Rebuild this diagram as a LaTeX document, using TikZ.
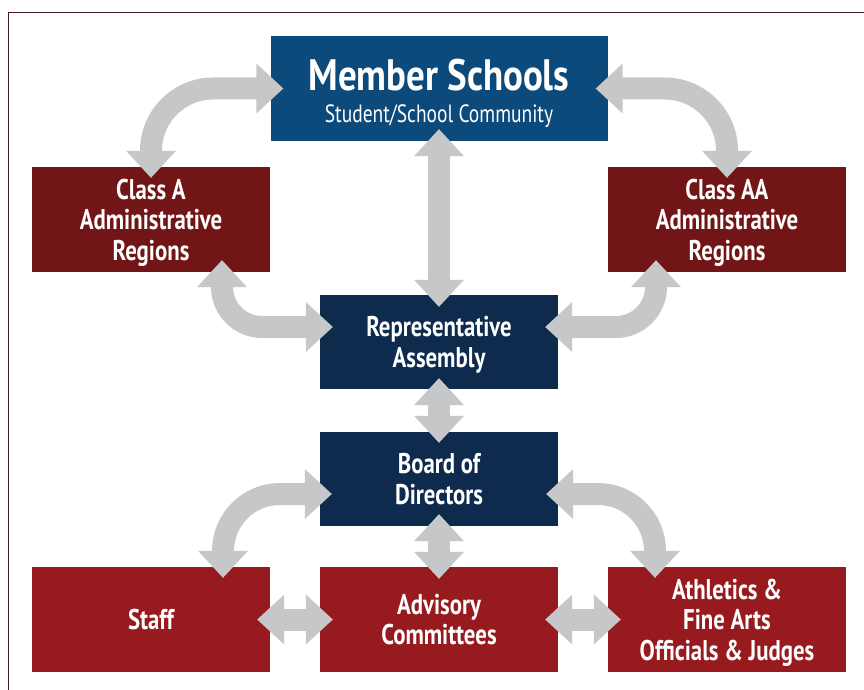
\documentclass[tikz,border=0pt]{standalone}
\usepackage{fontspec}
\setmainfont{PT Sans}[FakeStretch=0.80]
\newfontfamily\titlefont{PT Sans}[FakeStretch=0.84]
\newfontfamily\subfont{PT Sans}[FakeStretch=0.78]
\usetikzlibrary{calc}
\definecolor{msblue}{HTML}{0B4A7B}
\definecolor{navy}{HTML}{0E2B4D}
\definecolor{darkred}{HTML}{721516}
\definecolor{brightred}{HTML}{971A1F}
\definecolor{arrowgray}{HTML}{C6C7C9}
\definecolor{framecol}{HTML}{4B1A1C}
\newcommand{\arrhead}[2]{\fill[arrowgray] (#1) -- ($(#2)!25pt!90:(#1)$) -- ($(#2)!25pt!-90:(#1)$) -- cycle;}
\begin{document}
\begin{tikzpicture}[x=1pt,y=-1pt,
  box/.style={rectangle, inner sep=0pt, text=white, align=center, text depth=0pt,
    minimum width=238pt, font=\fontsize{28.5}{30.5}\selectfont\bfseries},
  tall/.style={minimum height=105pt},
  short/.style={minimum height=94pt},
  shaft/.style={draw=arrowgray, line width=22pt, line cap=butt}]
\useasboundingbox (0,0) rectangle (864,690);
\fill[white] (0,0) rectangle (864,690);
\draw[framecol, line width=1.5pt] (8.5,690) -- (8.5,12.5) -- (864,12.5);

% boxes
\node[box, fill=msblue, minimum width=337pt, tall] (ms) at (439,88.5) {};
\node[anchor=base, text=white, inner sep=0pt, font=\titlefont\fontsize{44}{44}\selectfont\bfseries] (mst) at ($(ms.center)+(0,2.5)$) {Member Schools};
\node[anchor=base, text=white, inner sep=0pt, font=\subfont\fontsize{25}{25}\selectfont] (mss) at ($(ms.center)+(0,33.5)$) {Student/School Community};

\node[box, fill=darkred, tall] (ca) at (151,219.5) {Class A\\Administrative\\Regions};
\node[box, fill=darkred, tall] (caa) at (727,219.5) {Class AA\\Administrative\\Regions};
\node[box, fill=navy, short] (ra) at (439,342) {Representative\\Assembly};
\node[box, fill=navy, short] (bd) at (439,479) {Board of\\Directors};
\node[box, fill=brightred, tall] (st) at (151,619.5) {Staff};
\node[box, fill=brightred, tall] (ac) at (439,619.5) {Advisory\\Committees};
\node[box, fill=brightred, tall] (afa) at (727,619.5) {Athletics \&\\Fine Arts\\Officials \& Judges};

% arrow 1: ms <-> ca
\coordinate (t1a) at ($(ms.west)+(13,0)$);
\coordinate (b1a) at ($(t1a)+(-27,0)$);
\coordinate (t1b) at ($(ca.north)+(0,11)$);
\coordinate (b1b) at ($(t1b)+(0,-27)$);
\coordinate (c1) at (b1b |- b1a);
\draw[shaft] ($(b1b)+(0,2)$) -- ($(c1)+(0,62)$) .. controls ($(c1)+(0,28)$) and ($(c1)+(28,0)$) .. ($(c1)+(62,0)$) -- ($(b1a)+(2,0)$);
\arrhead{t1a}{b1a}
\arrhead{t1b}{b1b}

% arrow 2: ms <-> caa
\coordinate (t2a) at ($(ms.east)+(-12,0)$);
\coordinate (b2a) at ($(t2a)+(27,0)$);
\coordinate (t2b) at ($(caa.north)+(0,11)$);
\coordinate (b2b) at ($(t2b)+(0,-27)$);
\coordinate (c2) at (b2b |- b2a);
\draw[shaft] ($(b2b)+(0,2)$) -- ($(c2)+(0,62)$) .. controls ($(c2)+(0,28)$) and ($(c2)+(-28,0)$) .. ($(c2)+(-62,0)$) -- ($(b2a)+(-2,0)$);
\arrhead{t2a}{b2a}
\arrhead{t2b}{b2b}

% arrow 3: ms <-> ra
\coordinate (t3a) at ($(ms.south)+(0,-12)$);
\coordinate (b3a) at ($(t3a)+(0,27)$);
\coordinate (t3b) at ($(ra.north)+(0,12)$);
\coordinate (b3b) at ($(t3b)+(0,-27)$);
\draw[shaft] ($(b3a)+(0,-2)$) -- ($(b3b)+(0,2)$);
\arrhead{t3a}{b3a}
\arrhead{t3b}{b3b}

% arrow 4: ca <-> ra
\coordinate (t4a) at ($(ca.south)+(71,-12)$);
\coordinate (b4a) at ($(t4a)+(0,27)$);
\coordinate (t4b) at ($(ra.west)+(13,-15)$);
\coordinate (b4b) at ($(t4b)+(-27,0)$);
\coordinate (c4) at (b4a |- b4b);
\draw[shaft] ($(b4a)+(0,-2)$) -- ($(c4)+(0,-40)$) .. controls ($(c4)+(0,-18)$) and ($(c4)+(18,0)$) .. ($(c4)+(40,0)$) -- ($(b4b)+(2,0)$);
\arrhead{t4a}{b4a}
\arrhead{t4b}{b4b}

% arrow 5: caa <-> ra
\coordinate (t5a) at ($(caa.south)+(-71,-12)$);
\coordinate (b5a) at ($(t5a)+(0,27)$);
\coordinate (t5b) at ($(ra.east)+(-13,-15)$);
\coordinate (b5b) at ($(t5b)+(27,0)$);
\coordinate (c5) at (b5a |- b5b);
\draw[shaft] ($(b5a)+(0,-2)$) -- ($(c5)+(0,-40)$) .. controls ($(c5)+(0,-18)$) and ($(c5)+(-18,0)$) .. ($(c5)+(-40,0)$) -- ($(b5b)+(-2,0)$);
\arrhead{t5a}{b5a}
\arrhead{t5b}{b5b}

% arrow 6: ra <-> bd
\coordinate (t6a) at ($(ra.south)+(0,-11)$);
\coordinate (b6a) at ($(t6a)+(0,27)$);
\coordinate (t6b) at ($(bd.north)+(0,11)$);
\coordinate (b6b) at ($(t6b)+(0,-27)$);
\draw[shaft] ($(b6a)+(0,-2)$) -- ($(b6b)+(0,2)$);
\arrhead{t6a}{b6a}
\arrhead{t6b}{b6b}

% arrow 7: bd <-> ac
\coordinate (t7a) at ($(bd.south)+(0,-12)$);
\coordinate (b7a) at ($(t7a)+(0,27)$);
\coordinate (t7b) at ($(ac.north)+(0,12)$);
\coordinate (b7b) at ($(t7b)+(0,-27)$);
\draw[shaft] ($(b7a)+(0,-2)$) -- ($(b7b)+(0,2)$);
\arrhead{t7a}{b7a}
\arrhead{t7b}{b7b}

% arrow 8: bd <-> st
\coordinate (t8a) at ($(bd.west)+(12,15)$);
\coordinate (b8a) at ($(t8a)+(-27,0)$);
\coordinate (t8b) at ($(st.north)+(72,11)$);
\coordinate (b8b) at ($(t8b)+(0,-27)$);
\coordinate (c8) at (b8b |- b8a);
\draw[shaft] ($(b8b)+(0,2)$) -- ($(c8)+(0,57)$) .. controls ($(c8)+(0,25.5)$) and ($(c8)+(25.5,0)$) .. ($(c8)+(57,0)$) -- ($(b8a)+(2,0)$);
\arrhead{t8a}{b8a}
\arrhead{t8b}{b8b}

% arrow 9: bd <-> afa
\coordinate (t9a) at ($(bd.east)+(-12,15)$);
\coordinate (b9a) at ($(t9a)+(27,0)$);
\coordinate (t9b) at ($(afa.north)+(-72,11)$);
\coordinate (b9b) at ($(t9b)+(0,-27)$);
\coordinate (c9) at (b9b |- b9a);
\draw[shaft] ($(b9b)+(0,2)$) -- ($(c9)+(0,57)$) .. controls ($(c9)+(0,25.5)$) and ($(c9)+(-25.5,0)$) .. ($(c9)+(-57,0)$) -- ($(b9a)+(-2,0)$);
\arrhead{t9a}{b9a}
\arrhead{t9b}{b9b}

% arrow 10: st <-> ac
\coordinate (t10a) at ($(st.east)+(-13,0)$);
\coordinate (b10a) at ($(t10a)+(27,0)$);
\coordinate (t10b) at ($(ac.west)+(13,0)$);
\coordinate (b10b) at ($(t10b)+(-27,0)$);
\draw[shaft] ($(b10a)+(-2,0)$) -- ($(b10b)+(2,0)$);
\arrhead{t10a}{b10a}
\arrhead{t10b}{b10b}

% arrow 11: ac <-> afa
\coordinate (t11a) at ($(ac.east)+(-13,0)$);
\coordinate (b11a) at ($(t11a)+(27,0)$);
\coordinate (t11b) at ($(afa.west)+(13,0)$);
\coordinate (b11b) at ($(t11b)+(-27,0)$);
\draw[shaft] ($(b11a)+(-2,0)$) -- ($(b11b)+(2,0)$);
\arrhead{t11a}{b11a}
\arrhead{t11b}{b11b}
\end{tikzpicture}
\end{document}
